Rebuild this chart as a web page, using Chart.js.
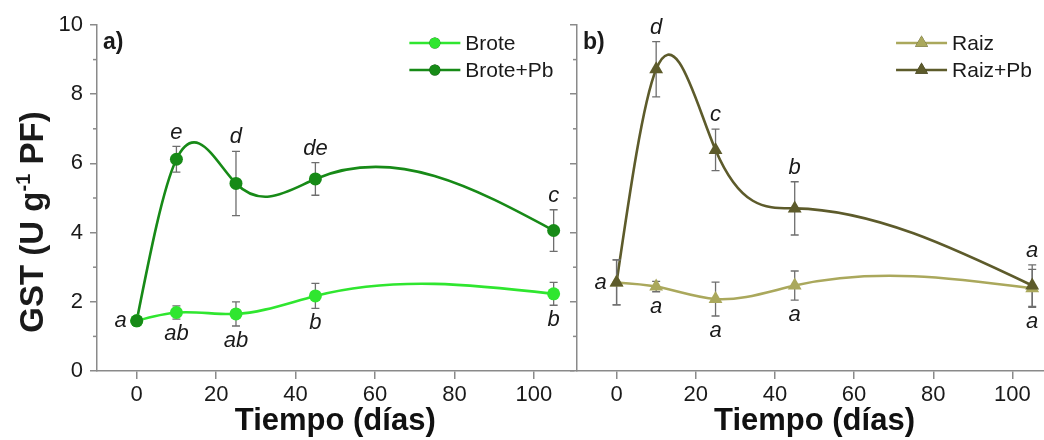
<!DOCTYPE html>
<html>
<head>
<meta charset="utf-8">
<script src="https://cdn.jsdelivr.net/npm/chart.js"></script>
<style>
    html, body { margin: 0; padding: 0; background: #fff; overflow: hidden; }
    #wrap { position: relative; width: 1044px; height: 440px; overflow: hidden; }
    #left { position: absolute; left: 0; top: 0; }
    #right { position: absolute; left: 567px; top: 0; }
</style>
</head>
<body>
<div id="wrap">
    <canvas id="left" width="580" height="440"></canvas>
    <canvas id="right" width="493" height="440"></canvas>
</div>
<script>
// values
const days = [0, 10, 25, 45, 105];

const brote = [1.45, 1.69, 1.65, 2.17, 2.23];
const broteErr = [0, 0.19, 0.35, 0.36, 0.33];
const broteLetters = ["a", "ab", "ab", "b", "b"];

const brotePb = [1.45, 6.12, 5.42, 5.55, 4.06];
const brotePbErr = [0, 0.37, 0.93, 0.47, 0.6];
const brotePbLetters = ["", "e", "d", "de", "c"];

const raiz = [2.56, 2.44, 2.08, 2.47, 2.39];
const raizErr = [0.65, 0.15, 0.49, 0.42, 0.55];
const raizLetters = ["a", "a", "a", "a", "a"];

const raizPb = [2.56, 8.72, 6.39, 4.70, 2.47];
const raizPbErr = [0.65, 0.8, 0.6, 0.77, 0.6];
const raizPbLetters = ["", "d", "c", "b", "a"];

const xTicks = [0, 20, 40, 60, 80, 100];
const yTicks = [0, 2, 4, 6, 8, 10];
const yMinorTicks = [1, 3, 5, 7, 9];

const FONT = "'Liberation Sans', Arial, sans-serif";
Chart.defaults.font.family = FONT;
Chart.defaults.color = "#1a1a1a";

const AXIS = "#8a8a8a";

function series(label, values, errors, letters, side, color, shape, radius, order) {
    return {
        label: label,
        data: days.map((d, i) => ({ x: d, y: values[i] })),
        errors: errors,
        letters: letters,
        letterSide: side,
        borderColor: color,
        backgroundColor: color,
        pointBackgroundColor: color,
        pointBorderWidth: 0,
        pointStyle: shape,
        pointRadius: radius,
        pointHoverRadius: radius,
        showLine: false,
        order: order
    };
}

// natural cubic spline through the points, in pixel space
function splinePath(ctx, xs, ys) {
    const n = xs.length;
    const h = [], d = [];
    for (let i = 0; i < n - 1; i++) {
        h[i] = xs[i + 1] - xs[i];
        d[i] = (ys[i + 1] - ys[i]) / h[i];
    }
    const M = new Array(n).fill(0);
    if (n > 2) {
        const a = [], b = [], c = [], r = [];
        for (let i = 1; i < n - 1; i++) {
            a.push(h[i - 1]);
            b.push(2 * (h[i - 1] + h[i]));
            c.push(h[i]);
            r.push(6 * (d[i] - d[i - 1]));
        }
        const m = b.length;
        for (let i = 1; i < m; i++) {
            const w = a[i] / b[i - 1];
            b[i] -= w * c[i - 1];
            r[i] -= w * r[i - 1];
        }
        const sol = new Array(m);
        sol[m - 1] = r[m - 1] / b[m - 1];
        for (let i = m - 2; i >= 0; i--) sol[i] = (r[i] - c[i] * sol[i + 1]) / b[i];
        for (let i = 0; i < m; i++) M[i + 1] = sol[i];
    }
    ctx.beginPath();
    ctx.moveTo(xs[0], ys[0]);
    for (let i = 0; i < n - 1; i++) {
        const s0 = d[i] - h[i] * (2 * M[i] + M[i + 1]) / 6;
        const s1 = d[i] + h[i] * (M[i] + 2 * M[i + 1]) / 6;
        ctx.bezierCurveTo(
            xs[i] + h[i] / 3, ys[i] + s0 * h[i] / 3,
            xs[i + 1] - h[i] / 3, ys[i + 1] - s1 * h[i] / 3,
            xs[i + 1], ys[i + 1]
        );
    }
    ctx.stroke();
}

const panelPlugin = {
    id: "panel",
    beforeDatasetsDraw(chart) {
        const { ctx } = chart;
        const x = chart.scales.x, y = chart.scales.y;
        ctx.save();
        // smooth lines
        chart.data.datasets.forEach(ds => {
            const xs = ds.data.map(p => x.getPixelForValue(p.x));
            const ys = ds.data.map(p => y.getPixelForValue(p.y));
            ctx.strokeStyle = ds.borderColor;
            ctx.lineWidth = 2.6;
            ctx.lineJoin = "round";
            splinePath(ctx, xs, ys);
        });
        // error bars
        ctx.strokeStyle = "#6e6e6e";
        ctx.lineWidth = 1.3;
        chart.data.datasets.forEach(ds => {
            ds.data.forEach((p, i) => {
                const e = ds.errors[i];
                if (!e) return;
                const px = x.getPixelForValue(p.x);
                const top = y.getPixelForValue(p.y + e);
                const bot = y.getPixelForValue(p.y - e);
                ctx.beginPath();
                ctx.moveTo(px, top); ctx.lineTo(px, bot);
                ctx.moveTo(px - 4, top); ctx.lineTo(px + 4, top);
                ctx.moveTo(px - 4, bot); ctx.lineTo(px + 4, bot);
                ctx.stroke();
            });
        });
        ctx.restore();
    },
    afterDatasetsDraw(chart, args, opts) {
        const { ctx, chartArea } = chart;
        const x = chart.scales.x, y = chart.scales.y;
        ctx.save();

        // minor ticks on the y axis
        ctx.strokeStyle = AXIS;
        ctx.lineWidth = 1.5;
        yMinorTicks.forEach(v => {
            const py = y.getPixelForValue(v);
            ctx.beginPath();
            ctx.moveTo(y.right - 4, py);
            ctx.lineTo(y.right, py);
            ctx.stroke();
        });

        // significance letters
        ctx.fillStyle = "#1a1a1a";
        ctx.font = "italic 22px " + FONT;
        ctx.textAlign = "center";
        ctx.textBaseline = "middle";
        chart.data.datasets.forEach(ds => {
            ds.data.forEach((p, i) => {
                const txt = ds.letters[i];
                if (!txt) return;
                const px = x.getPixelForValue(p.x);
                if (i === 0) {
                    ctx.fillText(txt, px - 16, y.getPixelForValue(p.y));
                } else if (ds.letterSide === "below") {
                    ctx.fillText(txt, px, y.getPixelForValue(p.y - ds.errors[i]) + 15);
                } else {
                    ctx.fillText(txt, px, y.getPixelForValue(p.y + ds.errors[i]) - 14);
                }
            });
        });

        // panel label
        ctx.font = "bold 23px " + FONT;
        ctx.textAlign = "left";
        ctx.fillText(opts.label, chartArea.left + 6, 43);

        // legend: line + marker + text, right aligned
        ctx.font = "21px " + FONT;
        const widths = chart.data.datasets.map(ds => ctx.measureText(ds.label).width);
        const lx = chartArea.right - 20 - Math.max(...widths) - 56;
        chart.data.datasets.forEach((ds, i) => {
            const ly = 43 + i * 27;
            ctx.strokeStyle = ds.borderColor;
            ctx.lineWidth = 2.6;
            ctx.beginPath();
            ctx.moveTo(lx, ly);
            ctx.lineTo(lx + 51, ly);
            ctx.stroke();
            Chart.helpers.drawPoint(ctx, {
                pointStyle: ds.pointStyle,
                radius: ds.pointStyle === "triangle" ? 7.5 : 5.5,
                borderWidth: 0,
                rotation: 0
            }, lx + 25.5, ly);
            ctx.fillStyle = ds.borderColor;
            ctx.fill();
            ctx.fillStyle = "#1a1a1a";
            ctx.textAlign = "left";
            ctx.fillText(ds.label, lx + 56, ly + 1);
        });

        // y axis title with superscript
        if (opts.yTitle) {
            ctx.translate(43, 222);
            ctx.rotate(-Math.PI / 2);
            ctx.textBaseline = "alphabetic";
            const big = "bold 33px " + FONT, small = "bold 20px " + FONT;
            const parts = [["GST (U g", big, 0], ["-1", small, -13], [" PF)", big, 0]];
            let total = 0;
            parts.forEach(pt => { ctx.font = pt[1]; total += ctx.measureText(pt[0]).width; });
            let cx = -total / 2;
            parts.forEach(pt => {
                ctx.font = pt[1];
                ctx.fillText(pt[0], cx, pt[2]);
                cx += ctx.measureText(pt[0]).width;
            });
        }
        ctx.restore();
    }
};

function axisOptions(yWidth, showYLabels) {
    return {
        x: {
            type: "linear",
            min: -10,
            max: 110,
            afterBuildTicks: s => { s.ticks = xTicks.map(v => ({ value: v })); },
            afterFit: s => { s.height = 69; },
            grid: { drawOnChartArea: false, tickLength: 8, color: AXIS, lineWidth: 1.5 },
            border: { color: AXIS, width: 1.5 },
            ticks: { font: { size: 22 }, color: "#1a1a1a", padding: 3, maxRotation: 0 },
            title: {
                display: true,
                text: "Tiempo (días)",
                font: { size: 31, weight: "bold" },
                color: "#111",
                padding: { top: 0, bottom: 0 }
            }
        },
        y: {
            min: 0,
            max: 10,
            afterBuildTicks: s => { s.ticks = yTicks.map(v => ({ value: v })); },
            afterFit: s => { s.width = yWidth; },
            grid: { drawOnChartArea: false, tickLength: 7, color: AXIS, lineWidth: 1.5 },
            border: { color: AXIS, width: 1.5 },
            ticks: { display: showYLabels, font: { size: 22 }, color: "#1a1a1a", padding: 7 }
        }
    };
}

function makePanel(id, datasets, label, yWidth, showYLabels) {
    new Chart(document.getElementById(id), {
        type: "line",
        data: { datasets: datasets },
        options: {
            responsive: false,
            animation: false,
            devicePixelRatio: 1,
            layout: { padding: { top: 25, right: 3, bottom: 0, left: 0 } },
            scales: axisOptions(yWidth, showYLabels),
            plugins: {
                legend: { display: false },
                tooltip: { enabled: false },
                panel: { label: label, yTitle: showYLabels }
            }
        },
        plugins: [panelPlugin]
    });
}

makePanel("left", [
    series("Brote", brote, broteErr, broteLetters, "below", "#2fe62f", "circle", 6.5, 1),
    series("Brote+Pb", brotePb, brotePbErr, brotePbLetters, "above", "#178a17", "circle", 6.5, 0)
], "a)", 97, true);

makePanel("right", [
    series("Raiz", raiz, raizErr, raizLetters, "below", "#aaa85c", "triangle", 8, 1),
    series("Raiz+Pb", raizPb, raizPbErr, raizPbLetters, "above", "#5d5b2b", "triangle", 8, 0)
], "b)", 10, false);
</script>
</body>
</html>
